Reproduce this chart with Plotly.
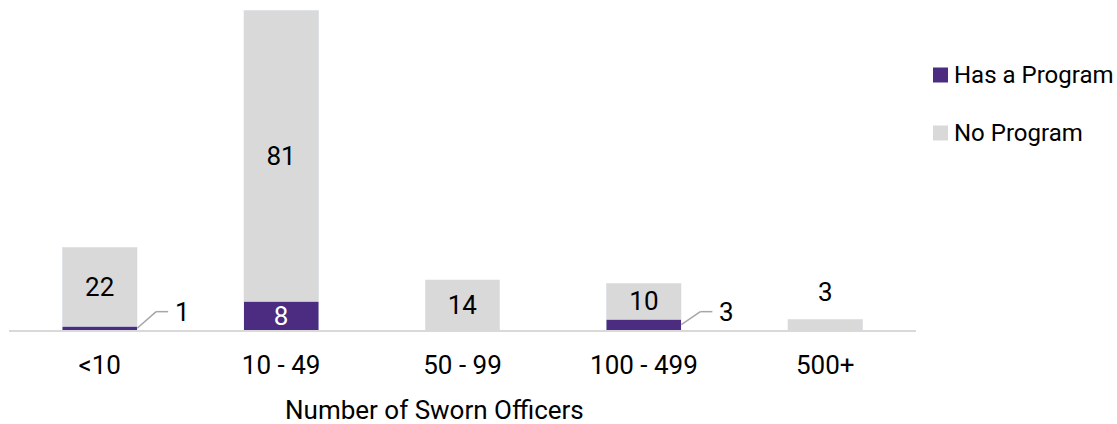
import plotly.graph_objects as go

categories = ["<10", "10 - 49", "50 - 99", "100 - 499", "500+"]
has_program = [1, 8, 0, 3, 0]
no_program = [22, 81, 14, 10, 3]
series_names = ["Has a Program", "No Program"]

PURPLE = "#4B2C80"
GREY = "#D9D9D9"
LINE_GREY = "#A6A6A6"
FONT = "Roboto"
FS = 26
LW = 400

W, H = 1117, 424
ML, MR, MT, MB = 9, 201, 10, 94
PW = W - ML - MR
PH = H - MT - MB
YMAX = max(h + n for h, n in zip(has_program, no_program))
BARGAP = 0.587
HW = (1 - BARGAP) / 2
PX_X = PW / len(categories)
PX_Y = PH / YMAX

# label visibility: small purple values go outside with leader lines
has_inside = [str(v) if v >= 5 else "" for v in has_program]
no_inside = [str(v) if v >= 5 else "" for v in no_program]

fig = go.Figure()
fig.add_trace(go.Bar(
    x=categories, y=has_program, name=series_names[0], marker_color=PURPLE,
    text=has_inside, textposition="inside", insidetextanchor="middle", textangle=0,
    constraintext="none", textfont=dict(color="white", size=FS, family=FONT, weight=LW),
    showlegend=False,
))
fig.add_trace(go.Bar(
    x=categories, y=no_program, name=series_names[1], marker_color=GREY,
    text=no_inside, textposition="inside", insidetextanchor="middle", textangle=0,
    constraintext="none", textfont=dict(color="black", size=FS, family=FONT, weight=LW),
    showlegend=False,
))

shapes = []
annotations = []
LEADER_Y = 5.1
for i, (h, n) in enumerate(zip(has_program, no_program)):
    if 0 < h < 5:
        x0 = i + HW
        y0 = h / 2
        xe = x0 + 19 / PX_X
        x1 = x0 + 31 / PX_X
        shapes.append(dict(type="line", xref="x", yref="y", x0=x0, y0=y0, x1=xe, y1=LEADER_Y,
                           line=dict(color=LINE_GREY, width=1.5)))
        shapes.append(dict(type="line", xref="x", yref="y", x0=xe, y0=LEADER_Y, x1=x1, y1=LEADER_Y,
                           line=dict(color=LINE_GREY, width=1.5)))
        annotations.append(dict(x=x1, y=LEADER_Y, xref="x", yref="y", text=str(h), showarrow=False,
                                xanchor="left", yanchor="middle", xshift=5,
                                font=dict(size=FS, family=FONT, color="black", weight=LW)))
    if 0 < n < 5:
        annotations.append(dict(x=i, y=h + n, xref="x", yref="y", text=str(n), showarrow=False,
                                xanchor="center", yanchor="bottom", yshift=10,
                                font=dict(size=FS, family=FONT, color="black", weight=LW)))

# manual legend
legend_items = [(series_names[0], PURPLE, 75), (series_names[1], GREY, 133)]
for name, col, ypx in legend_items:
    shapes.append(dict(type="rect", xref="paper", yref="paper",
                       x0=(933 - ML) / PW, x1=(948 - ML) / PW,
                       y0=(MT + PH - (ypx + 7.5)) / PH, y1=(MT + PH - (ypx - 7.5)) / PH,
                       fillcolor=col, line=dict(width=0)))
    annotations.append(dict(x=(952 - ML) / PW, y=(MT + PH - ypx) / PH, xref="paper", yref="paper",
                            text=name, showarrow=False, xanchor="left", yanchor="middle",
                            font=dict(size=24, family=FONT, color="black")))

# axis title
annotations.append(dict(x=(434 - ML) / PW, y=(MT + PH - 410) / PH, xref="paper", yref="paper",
                        text="Number of Sworn Officers", showarrow=False,
                        xanchor="center", yanchor="middle",
                        font=dict(size=26, family=FONT, color="black")))

fig.update_layout(
    width=W, height=H, barmode="stack", bargap=BARGAP,
    margin=dict(l=ML, r=MR, t=MT, b=MB),
    paper_bgcolor="white", plot_bgcolor="white",
    showlegend=False,
    shapes=shapes, annotations=annotations,
    font=dict(family=FONT, size=24, color="black"),
)
fig.update_xaxes(showline=True, linecolor=GREY, linewidth=2, ticks="",
                 tickfont=dict(size=26, family=FONT, color="black"),
                 ticklabelstandoff=11, showgrid=False)
fig.update_yaxes(range=[0, YMAX], visible=False, showgrid=False)

fig.write_html("out.html", config={"displayModeBar": False},
               post_script="document.body.style.margin='0';document.body.style.overflow='hidden';")
